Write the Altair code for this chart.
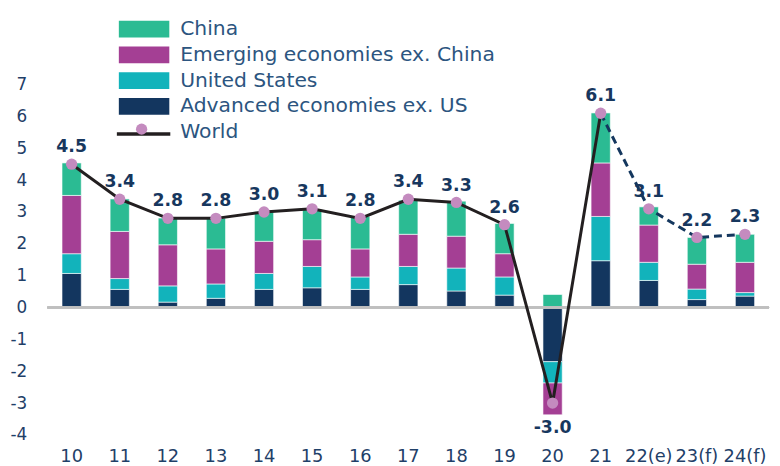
import altair as alt
import pandas as pd

cats = ["10", "11", "12", "13", "14", "15", "16", "17", "18", "19", "20", "21", "22(e)", "23(f)", "24(f)"]
adv = [1.07, 0.57, 0.17, 0.29, 0.57, 0.62, 0.57, 0.72, 0.52, 0.39, -1.70, 1.47, 0.85, 0.25, 0.36]
us = [0.62, 0.34, 0.51, 0.45, 0.50, 0.67, 0.39, 0.57, 0.72, 0.57, -0.67, 1.39, 0.57, 0.33, 0.11]
em = [1.83, 1.48, 1.29, 1.10, 1.01, 0.84, 0.88, 1.01, 1.00, 0.73, -1.00, 1.68, 1.17, 0.78, 0.95]
china = [1.02, 1.02, 0.84, 0.97, 0.93, 0.96, 1.02, 1.07, 1.10, 0.95, 0.41, 1.57, 0.57, 0.84, 0.88]
world = [4.5, 3.4, 2.8, 2.8, 3.0, 3.1, 2.8, 3.4, 3.3, 2.6, -3.0, 6.1, 3.1, 2.2, 2.3]
y_ticks = [-4, -3, -2, -1, 0, 1, 2, 3, 4, 5, 6, 7]

series = ["Advanced economies ex. US", "United States", "Emerging economies ex. China", "China"]
colors = ["#13365f", "#12b3bb", "#a43f94", "#2bbb93"]
legend_order = ["China", "Emerging economies ex. China", "United States", "Advanced economies ex. US"]

FONT = "DejaVu Sans"
TXT = "#1f4068"
LBL = "#17375e"

rows = []
for i, c in enumerate(cats):
    for k, (name, vals) in enumerate(zip(series, [adv, us, em, china])):
        rows.append({"cat": c, "series": name, "value": vals[i], "ord": k})
bars_df = pd.DataFrame(rows)

neg_sum = [sum(v for v in (adv[i], us[i], em[i], china[i]) if v < 0) for i in range(len(cats))]
world_df = pd.DataFrame({"cat": cats, "world": world, "idx": list(range(len(cats))),
                         "neg": neg_sum, "lbl": [f"{v:.1f}" for v in world]})

x_axis = alt.Axis(labelAngle=0, domain=False, ticks=False, labelFontSize=18,
                  labelColor=TXT, labelPadding=13, labelFont=FONT, title=None)
y_axis = alt.Axis(values=y_ticks, grid=False, domain=False, ticks=False,
                  tickSize=0, labelFontSize=17, labelColor=TXT, labelPadding=21,
                  labelFont=FONT, labelOverlap=False, title=None,
                  labelExpr="datum.value < 0 ? '-' + abs(datum.value) : '' + datum.value")
y_scale = alt.Scale(domain=[-4, 7], nice=False, zero=False)
xs = alt.X("cat:N", sort=cats, title=None, axis=x_axis,
           scale=alt.Scale(paddingInner=0.6, paddingOuter=0.3))


def ys(field, **kw):
    return alt.Y(field, title=None, axis=y_axis, scale=y_scale, **kw)


bars = alt.Chart(bars_df).mark_bar(stroke="white", strokeWidth=0.6).encode(
    x=xs,
    y=ys("value:Q", stack="zero"),
    color=alt.Color("series:N", scale=alt.Scale(domain=series, range=colors), legend=None),
    order=alt.Order("ord:Q"),
)

zero = alt.Chart(world_df).mark_rule(color="#bfbfbf", strokeWidth=1.5).encode(
    y=alt.Y(datum=0, axis=y_axis, scale=y_scale, title=None))

solid = alt.Chart(world_df).transform_filter("datum.idx <= 11").mark_line(
    color="#231f20", strokeWidth=3).encode(x=xs, y=ys("world:Q"))
dashed = alt.Chart(world_df).transform_filter("datum.idx >= 11").mark_line(
    color="#14375e", strokeWidth=3, strokeDash=[8, 5]).encode(x=xs, y=ys("world:Q"))
dots = alt.Chart(world_df).mark_point(filled=True, color="#c48bbf", size=130, opacity=1).encode(
    x=xs, y=ys("world:Q"))

pos_lbl = alt.Chart(world_df).transform_filter("datum.world >= 0").mark_text(
    font=FONT, fontSize=17.5, fontWeight="bold", color=LBL, dy=-17, baseline="middle").encode(
    x=xs, y=ys("world:Q"), text="lbl:N")
neg_lbl = alt.Chart(world_df).transform_filter("datum.world < 0").mark_text(
    font=FONT, fontSize=17.5, fontWeight="bold", color=LBL, dy=13, baseline="middle").encode(
    x=xs, y=ys("neg:Q"), text="lbl:N")

# manual legend
leg_layers = []
leg_y = [-56, -30, -4, 22]
leg_df = pd.DataFrame({"label": legend_order})
for name, yc in zip(legend_order, leg_y):
    col = colors[series.index(name)]
    d = leg_df[leg_df["label"] == name]
    leg_layers.append(alt.Chart(d).mark_rect(color=col).encode(
        x=alt.value(72), x2=alt.value(123), y=alt.value(yc - 8.5), y2=alt.value(yc + 8.5)))
    leg_layers.append(alt.Chart(d).mark_text(font=FONT, fontSize=20.5, color="#2c5580", align="left",
                                             baseline="middle").encode(
        x=alt.value(134), y=alt.value(yc), text="label:N"))
wd = pd.DataFrame({"label": ["World"]})
leg_layers.append(alt.Chart(wd).mark_rule(color="#231f20", strokeWidth=3.5).encode(
    x=alt.value(70), x2=alt.value(124), y=alt.value(50)))
leg_layers.append(alt.Chart(wd).mark_point(filled=True, color="#c48bbf", size=130, opacity=1).encode(
    x=alt.value(95), y=alt.value(45)))
leg_layers.append(alt.Chart(wd).mark_text(font=FONT, fontSize=20.5, color="#2c5580", align="left",
                                          baseline="middle").encode(
    x=alt.value(134), y=alt.value(48), text="label:N"))

chart = alt.layer(bars, zero, solid, dashed, dots, pos_lbl, neg_lbl, *leg_layers).properties(
    width=729, height=354,
    autosize=alt.AutoSizeParams(type="none"),
    padding={"left": 40, "top": 75, "right": 3, "bottom": 29},
).configure(font=FONT, view=alt.ViewConfig(stroke=None))

chart.save("out.html", embed_options={"renderer": "svg", "actions": False})
